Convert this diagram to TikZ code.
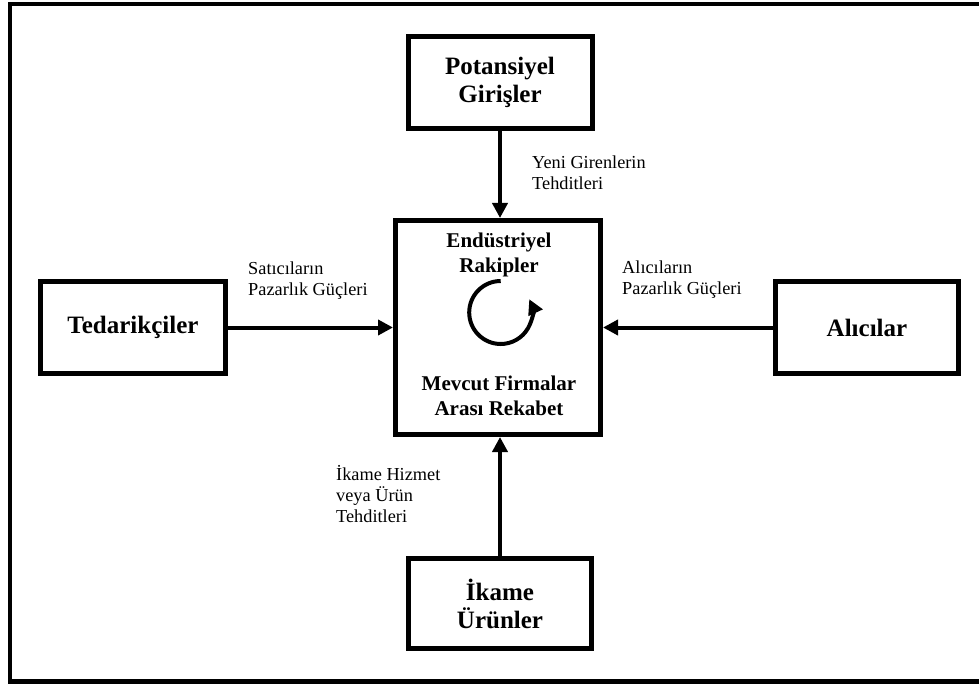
\documentclass[tikz,border=0pt]{standalone}
\usepackage{fontspec}
\setmainfont{Liberation Serif}
\usetikzlibrary{arrows.meta}
\begin{document}
\begin{tikzpicture}[x=1pt,y=-1pt,
  box/.style={draw, line width=5pt, align=center, inner sep=0pt,
    font=\fontsize{25}{28}\selectfont\bfseries},
  midtxt/.style={align=center, inner sep=0pt, font=\fontsize{21}{25}\selectfont\bfseries},
  lbl/.style={align=left, anchor=west, inner sep=0pt, font=\fontsize{18.3}{21}\selectfont},
  arr/.style={line width=4pt, -{Triangle[length=15pt,width=15pt]}}]
\useasboundingbox (0,0) rectangle (979,684);
\clip (0,0) rectangle (979,684);
\draw[line width=4.5pt] (10,4) rectangle (1000,681.5);

\node[box, minimum width=184pt, minimum height=92pt] (pot) at (500,82.5) {Potansiyel\\Girişler};
\node[box, minimum width=205pt, minimum height=214pt] (mid) at (498,327.5) {};
\node[box, minimum width=185pt, minimum height=92pt] (ted) at (133,327.5) {Tedarikçiler};
\node[box, minimum width=183pt, minimum height=92pt] (alc) at (867,327.5) {Alıcılar};
\node[box, minimum width=183pt, minimum height=90pt] (ika) at (500,603.5) {İkame\\Ürünler};

\node[midtxt] (t1) at (499,254.5) {Endüstriyel\\Rakipler};
\node[midtxt] (t2) at (499,395.5) {Mevcut Firmalar\\Arası Rekabet};

\coordinate (cs) at (500.7,281);
\draw[arr] (cs) arc[start angle=270, end angle=-25, radius=31.5];

\draw[arr] (pot.south) -- (mid.north -| pot.south);
\draw[arr] (ted.east) -- (mid.west |- ted.east);
\draw[arr] (alc.west) -- (mid.east |- alc.west);
\draw[arr] (ika.north) -- (mid.south -| ika.north);

\node[lbl] (l1) at (532,173) {Yeni Girenlerin\\Tehditleri};
\node[lbl] (l2) at (248,280.5) {Satıcıların\\Pazarlık Güçleri};
\node[lbl] (l3) at (622,279.5) {Alıcıların\\Pazarlık Güçleri};
\node[lbl] (l4) at (336,494) {İkame Hizmet\\veya Ürün\\Tehditleri};
\end{tikzpicture}
\end{document}
